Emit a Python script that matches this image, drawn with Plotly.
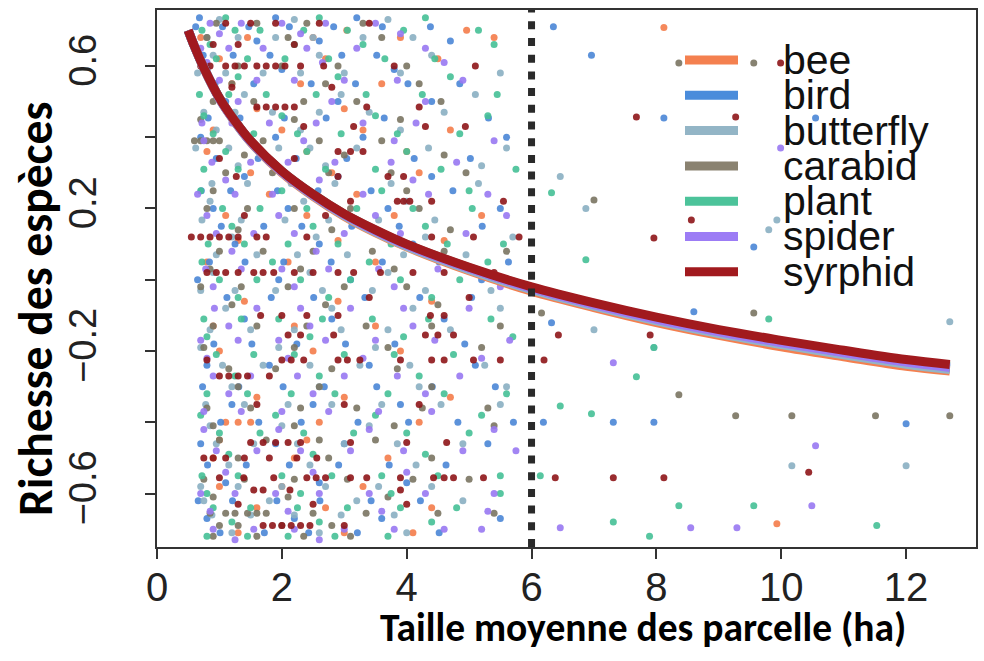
import plotly.graph_objects as go

# ---------------- data ----------------
taxa = ["bee", "bird", "butterfly", "carabid", "plant", "spider", "syrphid"]

line_colors = ["#F4804F", "#4A8CDB", "#93B5C6", "#8A8270", "#4CC39A", "#9C7CF5", "#A11A1E"]
point_colors = ["#F47C4A", "#4A86D6", "#8AAFC2", "#7A7462", "#45C096", "#9878F2", "#8E1518"]

x_tick_vals = [0, 2, 4, 6, 8, 10, 12]
x_tick_text = ["0", "2", "4", "6", "8", "10", "12"]
y_tick_vals = [-0.6, -0.4, -0.2, 0.0, 0.2, 0.4, 0.6]
y_tick_text = ["\u22120.6", "", "\u22120.2", "", "0.2", "", "0.6"]

threshold_x = 6

curve_x = [0.5, 0.6, 0.75, 1.0, 1.25, 1.5, 2.0, 2.5, 3.0, 3.5, 4.0, 5.0, 6.0, 7.0, 8.0, 9.0, 10.0, 11.0, 12.0, 12.7]
curve_bee = [0.70, 0.655, 0.594, 0.508, 0.442, 0.386, 0.300, 0.234, 0.178, 0.132, 0.092, 0.025, -0.032, -0.078, -0.120, -0.156, -0.188, -0.216, -0.243, -0.256]
curve_bird = [0.70, 0.655, 0.595, 0.509, 0.444, 0.388, 0.303, 0.237, 0.182, 0.136, 0.096, 0.030, -0.026, -0.072, -0.113, -0.149, -0.180, -0.208, -0.234, -0.250]
curve_butterfly = [0.70, 0.655, 0.594, 0.508, 0.443, 0.387, 0.302, 0.236, 0.180, 0.134, 0.094, 0.028, -0.028, -0.074, -0.115, -0.151, -0.182, -0.211, -0.237, -0.252]
curve_carabid = [0.70, 0.655, 0.595, 0.510, 0.445, 0.389, 0.304, 0.239, 0.184, 0.139, 0.099, 0.034, -0.022, -0.067, -0.108, -0.143, -0.174, -0.202, -0.228, -0.242]
curve_plant = [0.70, 0.655, 0.595, 0.510, 0.445, 0.389, 0.304, 0.239, 0.184, 0.138, 0.098, 0.033, -0.023, -0.068, -0.109, -0.144, -0.175, -0.203, -0.229, -0.244]
curve_spider = [0.70, 0.655, 0.595, 0.509, 0.444, 0.388, 0.303, 0.238, 0.183, 0.137, 0.097, 0.032, -0.024, -0.070, -0.111, -0.146, -0.177, -0.205, -0.231, -0.246]
curve_syrphid = [0.70, 0.655, 0.595, 0.510, 0.445, 0.390, 0.305, 0.240, 0.185, 0.140, 0.100, 0.035, -0.020, -0.065, -0.105, -0.140, -0.170, -0.198, -0.224, -0.238]

# observed points, grouped by their y level: (y, [x, ...])
pts_bee = [
    (0.708, [8.12]), (0.70, [3.04, 4.96]), (0.68, [0.7, 1.45, 2.5, 3.9, 5.4]),
    (0.62, [1.0, 2.7, 4.5]), (0.55, [1.2, 2.3, 3.6]), (0.48, [1.6, 3.0]),
    (0.42, [0.9, 2.0, 3.3, 4.7]), (0.36, [0.8, 2.4, 4.0]), (0.30, [1.5, 2.8, 4.2]),
    (0.24, [1.8, 3.2]), (0.18, [1.1, 2.4, 3.8, 5.2]), (0.11, [1.3, 2.9, 4.6]),
    (0.05, [0.8, 2.1, 3.5]), (-0.06, [1.4, 2.9, 4.4]), (-0.13, [0.9, 2.2, 3.5]),
    (-0.20, [1.0, 2.5, 3.9]), (-0.33, [1.6, 3.0, 4.7]), (-0.40, [1.1, 1.3, 1.5, 2.6, 4.2]),
    (-0.45, [1.0, 2.4]), (-0.50, [0.9, 2.2, 3.7]), (-0.58, [1.0, 2.0, 3.3]),
    (-0.64, [1.6, 2.7, 4.4]), (-0.685, [9.93]), (-0.71, [1.3, 3.0, 4.1]),
]
pts_bird = [
    (0.735, [0.68, 1.9, 3.2]),
    (0.71, [0.62, 1.05, 1.47, 2.12, 2.83, 3.61, 4.38, 6.35]),
    (0.67, [1.6, 2.6, 4.7]),
    (0.63, [0.74, 1.22, 1.81, 2.96, 3.52, 6.96]),
    (0.59, [0.8, 2.0, 3.8]),
    (0.55, [0.93, 1.55, 2.47, 3.18, 4.02, 4.85]),
    (0.50, [1.1, 2.9, 4.4]),
    (0.454, [0.82, 1.33, 2.04, 2.71, 3.64, 5.31, 8.12, 10.55]),
    (0.40, [0.7, 1.9, 3.3, 5.6]),
    (0.34, [0.95, 1.62, 2.23, 3.04, 4.12, 5.02]),
    (0.29, [1.4, 2.9, 4.4]),
    (0.25, [0.71, 1.18, 1.93, 2.58, 3.43, 4.74]),
    (0.20, [0.9, 2.1, 3.7, 5.5]),
    (0.15, [1.03, 1.71, 2.32, 3.12, 3.88, 5.21]),
    (0.10, [1.25, 2.6, 4.1]),
    (0.092, [9.56]),
    (0.05, [0.84, 1.41, 2.03, 2.79, 3.61, 4.52, 5.63]),
    (0.00, [0.65, 1.95, 3.1, 5.2]),
    (-0.05, [1.12, 1.83, 2.51, 3.33, 4.21, 5.04]),
    (-0.09, [8.6]), (-0.121, [6.32]),
    (-0.11, [1.4, 2.8, 4.6]),
    (-0.18, [0.91, 1.52, 2.24, 3.02, 3.81, 4.93]),
    (-0.24, [0.8, 1.8, 3.4, 5.1]),
    (-0.30, [0.73, 1.31, 2.02, 2.68, 3.52, 4.41, 5.42]),
    (-0.35, [1.2, 2.5, 3.9]),
    (-0.40, [1.02, 1.63, 2.31, 3.22, 4.03, 4.82, 5.71, 6.19, 7.31, 7.96]),
    (-0.404, [12.0]),
    (-0.46, [0.7, 1.9, 3.0, 5.3]),
    (-0.52, [0.81, 1.43, 2.12, 2.91, 3.72, 4.63]),
    (-0.57, [1.1, 2.6, 4.0]),
    (-0.62, [0.66, 1.21, 1.92, 2.61, 3.43, 4.22]),
    (-0.67, [0.8, 2.2, 3.6, 5.5]),
    (-0.71, [1.01, 1.72, 2.43, 3.21, 4.52]),
]
pts_butterfly = [
    (0.73, [1.0, 2.2, 3.7]),
    (0.68, [0.8, 1.3, 1.9, 2.5, 3.3, 4.1]),
    (0.63, [0.9, 2.6, 4.4]),
    (0.58, [0.65, 1.1, 1.7, 2.3, 3.0, 3.9, 5.5]),
    (0.52, [1.4, 2.95, 5.1]),
    (0.47, [0.75, 1.25, 1.85, 2.6, 3.4, 4.6]),
    (0.42, [0.95, 2.3, 3.9]),
    (0.37, [0.62, 1.15, 1.95, 2.45, 3.2, 4.35, 5.6]),
    (0.32, [1.3, 2.7, 5.2]),
    (0.29, [6.46]),
    (0.27, [0.88, 1.45, 2.15, 2.85, 3.75, 5.15]),
    (0.22, [0.85, 2.35, 4.0]),
    (0.20, [6.87]),
    (0.168, [0.72, 1.35, 2.05, 2.75, 3.55, 4.45, 9.93]),
    (0.14, [9.8]),
    (0.12, [1.2, 2.55, 4.3, 5.7]),
    (0.07, [0.95, 1.6, 2.25, 3.05, 3.95, 4.95]),
    (0.02, [0.9, 2.45, 3.7]),
    (-0.03, [0.7, 1.25, 1.9, 2.65, 3.45, 4.3, 5.35]),
    (-0.08, [1.1, 2.8, 4.1, 5.5]),
    (-0.118, [12.7]),
    (-0.14, [0.85, 1.5, 2.2, 2.95, 3.7, 4.7, 7.0]),
    (-0.19, [0.7, 1.95, 3.5, 7.96]),
    (-0.24, [1.05, 1.7, 2.45, 3.25, 4.05, 5.25]),
    (-0.30, [1.2, 2.6, 4.2, 5.6]),
    (-0.35, [0.78, 1.4, 2.1, 2.8, 3.6, 4.55, 5.5]),
    (-0.41, [0.85, 2.0, 3.4]),
    (-0.46, [0.95, 1.55, 2.25, 3.0, 3.85, 4.9]),
    (-0.52, [1.15, 2.45, 4.15]),
    (-0.522, [10.17, 12.0]),
    (-0.58, [0.7, 1.3, 2.0, 2.7, 3.55, 4.4]),
    (-0.62, [0.75, 1.8, 3.2, 4.9]),
    (-0.66, [0.88, 1.5, 2.2, 2.95, 3.8]),
    (-0.71, [1.2, 2.6, 4.0]),
]
pts_carabid = [
    (0.72, [0.95, 1.6, 2.4, 3.3]),
    (0.68, [0.8, 2.1, 3.6]),
    (0.608, [8.36, 9.56]),
    (0.60, [0.75, 1.3, 2.0, 2.9, 4.0]),
    (0.55, [1.2, 2.7, 4.2]),
    (0.50, [0.9, 1.55, 2.35, 3.2, 4.55]),
    (0.45, [0.7, 2.2, 3.9]),
    (0.39, [0.6, 0.7, 0.8, 0.9, 1.0, 1.7, 2.6, 3.6]),
    (0.35, [1.4, 3.0, 4.6]),
    (0.30, [1.1, 1.85, 2.75, 3.75, 4.95]),
    (0.25, [0.9, 2.4, 4.0]),
    (0.224, [7.0]),
    (0.20, [0.8, 1.45, 2.2, 3.1, 4.2]),
    (0.14, [1.3, 2.8, 4.7]),
    (0.08, [1.0, 1.7, 2.5, 3.45, 4.6, 5.6]),
    (0.03, [0.85, 2.3, 3.8]),
    (-0.02, [0.7, 1.35, 2.1, 3.0, 4.0]),
    (-0.07, [1.2, 2.7, 4.5]),
    (-0.093, [6.16, 9.56]),
    (-0.13, [0.9, 1.6, 2.4, 3.35, 4.4, 5.5]),
    (-0.19, [0.75, 2.2, 3.7, 5.2]),
    (-0.25, [1.15, 1.9, 2.8, 3.85]),
    (-0.30, [1.3, 2.6, 4.4]),
    (-0.323, [8.36]),
    (-0.36, [0.8, 1.5, 2.3, 3.2, 4.25, 5.3]),
    (-0.382, [9.27, 10.17, 11.51, 12.7]),
    (-0.41, [0.9, 2.2, 3.8, 5.4]),
    (-0.45, [1.0, 1.75, 2.6, 3.5]),
    (-0.50, [1.3, 2.75, 4.4]),
    (-0.56, [0.75, 1.4, 2.2, 3.05, 4.1, 5.0]),
    (-0.61, [0.9, 2.1, 3.7]),
    (-0.655, [0.85, 1.1, 1.25, 1.45, 1.6, 1.75, 2.5, 3.35, 4.5, 5.4]),
    (-0.69, [1.0, 1.3, 2.0, 2.8]),
    (-0.72, [0.9, 1.6, 2.35, 3.1]),
]
pts_plant = [
    (0.735, [1.1, 2.6, 4.3]),
    (0.70, [0.72, 1.25, 1.65, 2.35, 3.05, 3.95, 5.15]),
    (0.66, [0.85, 2.2, 3.3, 5.4]),
    (0.62, [0.95, 1.45, 2.05, 2.75, 3.65, 4.45]),
    (0.57, [1.3, 2.9, 4.7]),
    (0.52, [0.68, 1.15, 1.75, 2.55, 3.35, 4.25, 5.45]),
    (0.46, [0.75, 2.0, 3.5, 5.3]),
    (0.41, [0.9, 1.55, 2.25, 2.95, 3.85, 4.85]),
    (0.36, [1.1, 2.4, 4.0]),
    (0.31, [0.75, 1.3, 1.95, 2.7, 3.5, 4.55, 5.75]),
    (0.25, [0.7, 2.0, 3.6, 5.0]),
    (0.244, [6.32]),
    (0.20, [1.05, 1.65, 2.4, 3.2, 4.1, 5.05]),
    (0.15, [1.2, 2.5, 4.3]),
    (0.10, [0.82, 1.4, 2.1, 2.9, 3.75, 4.65, 5.55]),
    (0.056, [6.87]),
    (0.05, [0.72, 1.85, 3.4, 5.3]),
    (0.00, [1.0, 1.6, 2.3, 3.1, 3.9, 4.85]),
    (-0.05, [1.3, 2.75, 4.4]),
    (-0.11, [0.75, 1.35, 1.95, 2.65, 3.45, 4.35, 5.35, 9.8]),
    (-0.16, [0.8, 2.45, 3.95, 5.7]),
    (-0.19, [7.96]),
    (-0.21, [0.95, 1.55, 2.2, 3.0, 3.8, 4.75]),
    (-0.27, [1.25, 2.6, 4.2]),
    (-0.272, [7.68]),
    (-0.32, [0.8, 1.45, 2.15, 2.85, 3.7, 4.6, 5.6]),
    (-0.354, [6.46]),
    (-0.376, [6.96]),
    (-0.38, [0.7, 1.9, 3.5, 5.2]),
    (-0.43, [1.0, 1.65, 2.35, 3.15, 4.0, 5.0]),
    (-0.49, [1.15, 2.5, 4.3]),
    (-0.55, [0.72, 1.3, 2.0, 2.8, 3.6, 4.5, 5.5, 6.14]),
    (-0.60, [0.8, 2.3, 3.75, 5.5]),
    (-0.634, [8.36, 9.56]),
    (-0.64, [0.9, 1.5, 2.25, 3.05, 3.9, 4.8]),
    (-0.68, [1.2, 2.6, 4.4, 7.31]),
    (-0.69, [11.53]),
    (-0.72, [0.8, 1.45, 2.1, 2.85, 3.7, 7.89]),
]
pts_spider = [
    (0.72, [0.85, 1.35, 2.0, 2.7, 3.5]),
    (0.69, [1.0, 2.3, 3.9]),
    (0.65, [0.7, 1.15, 1.7, 2.4, 3.2, 4.3]),
    (0.61, [0.8, 2.65, 4.6]),
    (0.56, [1.0, 1.6, 2.2, 3.0, 3.85, 4.9]),
    (0.50, [1.3, 2.8, 4.3]),
    (0.44, [0.72, 1.2, 1.8, 2.55, 3.3, 4.15]),
    (0.39, [0.75, 2.35, 3.8, 5.4]),
    (0.37, [9.99]),
    (0.33, [0.88, 1.5, 2.1, 2.85, 3.75, 4.8]),
    (0.28, [1.1, 2.6, 4.1]),
    (0.24, [0.65, 1.25, 1.85, 2.5, 3.3, 4.35, 5.3]),
    (0.18, [0.8, 1.95, 3.5, 5.6]),
    (0.13, [0.95, 1.55, 2.2, 3.0, 3.9, 4.95]),
    (0.08, [1.2, 2.55, 4.2]),
    (0.03, [0.78, 1.35, 2.0, 2.75, 3.55, 4.5]),
    (-0.02, [0.9, 2.2, 3.8, 5.5]),
    (-0.08, [0.92, 1.6, 2.3, 3.1, 3.95, 5.0]),
    (-0.13, [1.15, 2.45, 4.1]),
    (-0.17, [0.7, 1.3, 1.95, 2.7, 3.5, 4.45, 5.65]),
    (-0.22, [0.8, 2.1, 3.3, 5.2]),
    (-0.233, [7.31]),
    (-0.27, [0.9, 1.5, 2.25, 3.0, 3.85, 4.85]),
    (-0.32, [1.15, 2.5, 4.3]),
    (-0.37, [0.75, 1.35, 2.0, 2.75, 3.55, 4.4]),
    (-0.42, [0.75, 1.95, 3.4, 5.4]),
    (-0.466, [10.55]),
    (-0.48, [0.95, 1.6, 2.3, 3.1, 3.95, 4.9, 5.75]),
    (-0.54, [1.1, 2.5, 4.0]),
    (-0.60, [0.7, 1.25, 1.9, 2.6, 3.4, 4.3, 5.4]),
    (-0.634, [10.49]),
    (-0.65, [0.85, 2.1, 3.6, 5.3]),
    (-0.696, [6.46, 8.55, 9.29]),
    (-0.70, [0.9, 1.55, 2.2, 3.0, 3.8, 4.6, 5.2]),
    (-0.73, [1.25, 2.6]),
]
pts_syrphid = [
    (0.72, [1.1, 1.5, 1.9, 2.6, 3.4]),
    (0.66, [0.9, 1.3, 2.2]),
    (0.60, [0.7, 0.85, 1.1, 1.25, 1.4, 1.6, 1.75, 1.9, 2.05, 2.3, 2.67, 3.8, 5.1]),
    (0.608, [9.99]),
    (0.54, [1.2, 2.8]),
    (0.485, [1.6, 1.75, 1.9, 2.05, 2.2, 3.36, 4.2]),
    (0.457, [7.68, 9.27]),
    (0.43, [2.35, 3.15, 4.3, 4.94]),
    (0.36, [2.9, 3.1, 3.3]),
    (0.34, [1.0, 2.2]),
    (0.29, [1.27, 2.9, 3.7, 3.95]),
    (0.22, [3.1, 3.85, 3.95, 4.05, 4.4, 5.55]),
    (0.18, [1.4, 2.7]),
    (0.168, [8.56]),
    (0.12, [0.55, 0.7, 0.85, 1.0, 1.15, 1.3, 1.6, 1.75, 2.4, 4.4, 5.07, 5.8]),
    (0.117, [7.96]),
    (0.02, [0.8, 0.95, 1.1, 1.3, 1.55, 1.7, 1.87, 2.2, 2.5, 2.9, 3.15, 3.58, 4.1, 4.6, 5.4]),
    (-0.05, [3.4, 5.0]),
    (-0.10, [1.66, 2.0, 2.4, 2.9, 4.38, 4.6]),
    (-0.155, [2.1, 2.3, 2.83, 4.3, 4.5, 4.75, 6.43, 7.9]),
    (-0.225, [0.8, 2.0, 2.15, 2.35, 2.9, 3.05, 3.25, 3.9, 4.4, 4.6, 5.07, 5.5, 6.2]),
    (-0.27, [1.0, 1.15, 1.3, 1.45, 1.8]),
    (-0.35, [1.6, 3.0, 4.2]),
    (-0.457, [1.5, 1.7, 1.9, 2.1, 2.3, 3.1, 4.0, 4.64]),
    (-0.50, [0.75, 0.9, 1.1, 1.4, 1.8, 2.24, 2.56]),
    (-0.54, [10.44]),
    (-0.556, [1.0, 1.39, 1.87, 2.4, 2.55, 2.7, 3.1, 3.36, 3.9, 4.43, 4.6, 4.75, 5.23, 6.38, 7.31, 8.12]),
    (-0.59, [1.55, 1.7, 2.13, 3.9]),
    (-0.63, [1.3, 2.5, 4.0]),
    (-0.69, [1.7, 1.85, 2.0, 2.15, 2.3, 2.45, 3.0]),
]

x_title = "Taille moyenne des parcelle (ha)"
y_title = "Richesse des espèces"

# ---------------- figure ----------------
curves = [curve_bee, curve_bird, curve_butterfly, curve_carabid, curve_plant, curve_spider, curve_syrphid]
points = [pts_bee, pts_bird, pts_butterfly, pts_carabid, pts_plant, pts_spider, pts_syrphid]


def expand(rows):
    xs, ys = [], []
    for yv, xl in rows:
        for xv in xl:
            xs.append(xv)
            ys.append(yv)
    return xs, ys


fig = go.Figure()
for name, rows, col in zip(taxa, points, point_colors):
    xs, ys = expand(rows)
    fig.add_trace(go.Scatter(x=xs, y=ys, mode="markers", name=name, showlegend=False,
                             marker=dict(size=7, color=col, opacity=0.9, line=dict(width=0))))

for name, cy, col in zip(taxa, curves, line_colors):
    fig.add_trace(go.Scatter(x=curve_x, y=cy, mode="lines", name=name, showlegend=False,
                             line=dict(color=col, width=9, shape="spline")))

# vertical dotted reference line
fig.add_shape(type="line", x0=threshold_x, x1=threshold_x, xref="x", y0=0, y1=1, yref="paper",
              line=dict(color="#2a2a2a", width=7, dash="8px,8.7px"))

# legend (R style, no box, tightly spaced)
PL, PR, PT, PB = 157, 976, 10, 547
W, H = PR - PL, PB - PT
for i, (name, col) in enumerate(zip(taxa, line_colors)):
    ypx = 60 + 35.3 * i
    yp = (PB - ypx) / H
    fig.add_shape(type="line", xref="paper", yref="paper",
                  x0=(685 - PL) / W, x1=(738 - PL) / W, y0=yp, y1=yp,
                  line=dict(color=col, width=9))
    fig.add_annotation(xref="paper", yref="paper", x=(781 - PL) / W, y=yp, text=name,
                       showarrow=False, xanchor="left", yanchor="middle",
                       font=dict(family="Liberation Sans, Arial, sans-serif", size=41, color="#111"))

# axis titles
fig.add_annotation(xref="paper", yref="paper", x=(643 - PL) / W, y=(PB - 627) / H, text=x_title,
                   showarrow=False, xanchor="center", yanchor="middle",
                   font=dict(family="Carlito, Lato, sans-serif", size=39.5, color="#000", weight="bold"))
fig.add_annotation(xref="paper", yref="paper", x=(36 - PL) / W, y=(PB - 309) / H, text=y_title,
                   showarrow=False, xanchor="center", yanchor="middle", textangle=-90,
                   font=dict(family="Carlito, Lato, sans-serif", size=47.5, color="#000", weight="bold"))

tickfont = dict(family="Liberation Sans, Arial, sans-serif", size=40, color="#222")
fig.update_xaxes(range=[0, 13.12], tickvals=x_tick_vals, ticktext=x_tick_text, showgrid=False,
                 zeroline=False, showline=True, mirror=True, linecolor="#333", linewidth=1.5,
                 ticks="outside", ticklen=10, tickwidth=1.5, tickcolor="#333", tickfont=tickfont,
                 ticklabelstandoff=-6, automargin=False)
fig.update_yaxes(range=[-0.75, 0.757], tickvals=y_tick_vals, ticktext=y_tick_text, showgrid=False,
                 zeroline=False, showline=True, mirror=True, linecolor="#333", linewidth=1.5,
                 ticks="outside", ticklen=10, tickwidth=1.5, tickcolor="#333", tickangle=-90,
                 tickfont=dict(family="Liberation Sans, Arial, sans-serif", size=38, color="#222"),
                 ticklabelstandoff=34, automargin=False)

fig.update_layout(width=984, height=661, margin=dict(l=PL, r=984 - PR, t=PT, b=661 - PB),
                  plot_bgcolor="white", paper_bgcolor="white", showlegend=False)

fig.write_html("out.html", config={"displayModeBar": False},
               post_script="document.body.style.margin='0';")
